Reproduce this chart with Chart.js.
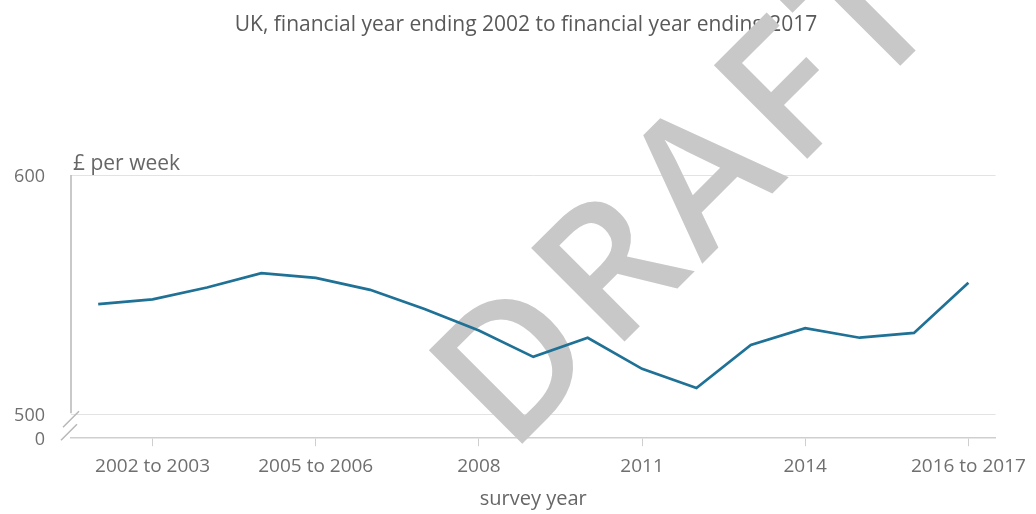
<!DOCTYPE html>
<html>
<head>
<meta charset="utf-8">
<script src="https://cdn.jsdelivr.net/npm/chart.js@4.4.1/dist/chart.umd.min.js"></script>
<style>
  html, body { margin: 0; padding: 0; background: #fff; }
  #wrap { width: 1036px; height: 514px; position: relative; }
</style>
</head>
<body>
<div id="wrap"><canvas id="incomeChart"></canvas></div>
<script>
// survey years (financial year ending 2002 .. 2017)
const categories = [
  "2001 to 2002", "2002 to 2003", "2003 to 2004", "2004 to 2005", "2005 to 2006",
  "2006 to 2007", "2007", "2008", "2009", "2010", "2011", "2012", "2013", "2014",
  "2015", "2015 to 2016", "2016 to 2017"
];

// £ per week
const incomeValues = [546, 548, 553, 559, 557, 552, 544, 535, 524, 532, 519, 511, 529, 536, 532, 534, 555];

const xTickLabels = ["2002 to 2003", "2005 to 2006", "2008", "2011", "2014", "2016 to 2017"];
const yTickValues = [490, 500, 600];
const yTickLabels = ["0", "500", "600"];

const titleText = "UK, financial year ending 2002 to financial year ending 2017";
const unitText = "£ per week";
const xAxisTitle = "survey year";
const watermarkText = "DRAFT";

const FONT = "'Open Sans', sans-serif";

// headline, unit label, broken y axis and the watermark
const decorations = {
  id: "decorations",
  beforeDatasetsDraw(chart) {
    const { ctx, scales: { x, y } } = chart;
    ctx.save();

    ctx.fillStyle = "#595959";
    ctx.font = "21px " + FONT;
    ctx.textAlign = "center";
    ctx.textBaseline = "alphabetic";
    ctx.fillText(titleText, 526, 31);

    ctx.fillStyle = "#666";
    ctx.font = "21px " + FONT;
    ctx.textAlign = "left";
    ctx.fillText(unitText, x.left + 2, y.top - 5);

    const top = y.getPixelForValue(600);
    const bottom = y.getPixelForValue(500);
    ctx.strokeStyle = "#b8b8b8";
    ctx.lineWidth = 1.5;
    ctx.beginPath();
    ctx.moveTo(x.left, top);
    ctx.lineTo(x.left, bottom - 1);
    [[x.left, bottom + 5], [x.left - 2, bottom + 18]].forEach(([cx, cy]) => {
      ctx.moveTo(cx - 8, cy + 8);
      ctx.lineTo(cx + 8, cy - 8);
    });
    ctx.stroke();

    // watermark
    ctx.translate(510, 456);
    ctx.rotate(-Math.PI / 4);
    ctx.font = "600 185px " + FONT;
    ctx.letterSpacing = "9px";
    ctx.fillStyle = "#c8c8c8";
    ctx.fillText(watermarkText, 0, 0);

    ctx.restore();
  }
};

const ctx = document.getElementById("incomeChart");

const incomeChart = new Chart(ctx, {
  type: "line",
  data: {
    labels: categories,
    datasets: [{
      label: "Median income",
      data: incomeValues,
      borderColor: "#1f7196",
      borderWidth: 2.7,
      pointRadius: 0,
      tension: 0,
      fill: false
    }]
  },
  options: {
    responsive: true,
    maintainAspectRatio: false,
    animation: false,
    layout: { padding: { top: 175, right: 38, bottom: 3, left: 0 } },
    plugins: {
      legend: { display: false },
      tooltip: { enabled: false }
    },
    scales: {
      x: {
        offset: true,
        border: { display: true, color: "#cfcfcf", width: 1.5 },
        grid: {
          drawOnChartArea: false,
          drawTicks: true,
          tickLength: 8,
          offset: false,
          color: (c) => xTickLabels.includes(categories[c.index]) ? "#cfcfcf" : "transparent"
        },
        ticks: {
          autoSkip: false,
          maxRotation: 0,
          padding: 9,
          color: "#6f6f6f",
          font: { family: FONT, size: 19 },
          callback: (v, i) => xTickLabels.includes(categories[i]) ? categories[i] : ""
        },
        title: {
          display: true,
          text: xAxisTitle,
          color: "#666",
          font: { family: FONT, size: 20 },
          padding: { top: 0, bottom: 0 }
        }
      },
      y: {
        min: 490,
        max: 600,
        afterBuildTicks: (scale) => { scale.ticks = yTickValues.map(v => ({ value: v })); },
        afterFit: (scale) => {
          scale.width = 71;
          scale.paddingTop = 0;
          scale.paddingBottom = 0;
        },
        border: { display: false },
        grid: {
          drawTicks: false,
          lineWidth: 1,
          color: (c) => c.tick && c.tick.value === 490 ? "transparent" : "#e3e3e3"
        },
        ticks: {
          autoSkip: false,
          padding: 26,
          labelOffset: 2,
          color: "#6f6f6f",
          font: { family: FONT, size: 18 },
          callback: (v) => yTickLabels[yTickValues.indexOf(v)]
        }
      }
    }
  },
  plugins: [decorations]
});
</script>
</body>
</html>
